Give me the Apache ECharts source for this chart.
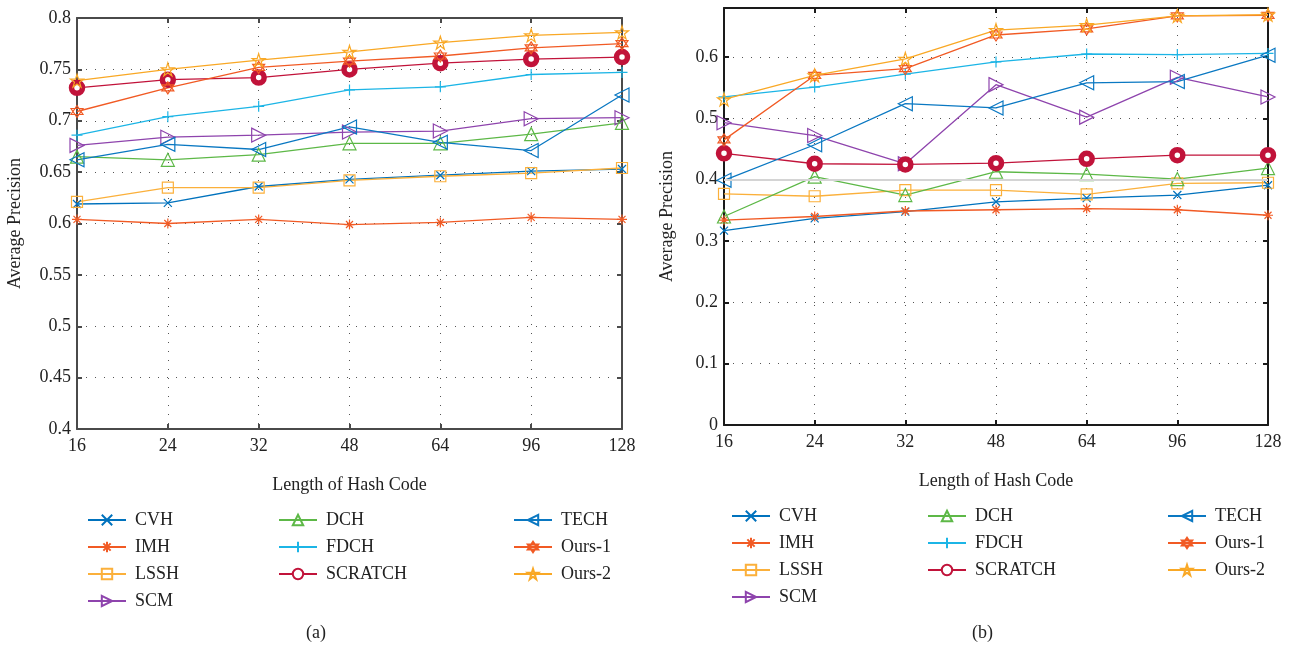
<!DOCTYPE html>
<html>
<head>
<meta charset="utf-8">
<script src="https://cdn.jsdelivr.net/npm/echarts@6/dist/echarts.min.js"></script>
<style>
  html, body { margin: 0; padding: 0; background: #fff; }
  #main { width: 1294px; height: 652px; }
</style>
</head>
<body>
<div id="main"></div>
<script>
// hash code lengths (x categories)
const hashLengths = ['16', '24', '32', '48', '64', '96', '128']

// (a) average precision
const cvhA     = [0.619, 0.620, 0.636, 0.643, 0.647, 0.651, 0.653]
const imhA     = [0.604, 0.600, 0.604, 0.599, 0.601, 0.606, 0.604]
const lsshA    = [0.621, 0.635, 0.635, 0.642, 0.646, 0.649, 0.654]
const scmA     = [0.676, 0.684, 0.686, 0.689, 0.690, 0.702, 0.703]
const dchA     = [0.665, 0.662, 0.667, 0.678, 0.678, 0.687, 0.698]
const fdchA    = [0.686, 0.704, 0.714, 0.730, 0.733, 0.745, 0.747]
const scratchA = [0.732, 0.740, 0.742, 0.750, 0.756, 0.760, 0.762]
const techA    = [0.662, 0.677, 0.672, 0.694, 0.679, 0.671, 0.725]
const ours1A   = [0.709, 0.732, 0.752, 0.758, 0.763, 0.771, 0.775]
const ours2A   = [0.739, 0.750, 0.759, 0.767, 0.776, 0.783, 0.786]

// (b) average precision
const cvhB     = [0.317, 0.337, 0.348, 0.364, 0.370, 0.375, 0.391]
const imhB     = [0.334, 0.340, 0.349, 0.351, 0.353, 0.351, 0.342]
const lsshB    = [0.377, 0.373, 0.383, 0.383, 0.376, 0.394, 0.395]
const scmB     = [0.493, 0.472, 0.426, 0.555, 0.502, 0.567, 0.535]
const dchB     = [0.340, 0.405, 0.375, 0.413, 0.409, 0.401, 0.419]
const fdchB    = [0.535, 0.551, 0.572, 0.592, 0.605, 0.604, 0.606]
const scratchB = [0.443, 0.426, 0.425, 0.427, 0.434, 0.440, 0.440]
const techB    = [0.399, 0.457, 0.524, 0.517, 0.558, 0.560, 0.603]
const ours1B   = [0.465, 0.570, 0.581, 0.636, 0.646, 0.667, 0.668]
const ours2B   = [0.531, 0.570, 0.597, 0.644, 0.652, 0.667, 0.669]

const FONT = 'Liberation Serif'
const STAR = 'path://M5,0L6.12,3.45L9.76,3.45L6.82,5.59L7.94,9.05L5,6.91L2.06,9.05L3.18,5.59L0.24,3.45L3.88,3.45Z'
const HEX = 'path://M5,0L9.33,7.5L0.67,7.5ZM5,10L0.67,2.5L9.33,2.5Z'

const styles = {
  'CVH':     { c: '#0072BD', sym: 'path://M0,0L10,10M10,0L0,10', size: 8 },
  'IMH':     { c: '#F15A24', sym: 'path://M5,0L5,10M0,5L10,5M1.5,1.5L8.5,8.5M8.5,1.5L1.5,8.5', size: 10 },
  'LSSH':    { c: '#FBB03B', sym: 'rect', size: 11 },
  'SCM':     { c: '#8E44AD', sym: 'path://M0,0L10,5L0,10Z', size: 14 },
  'DCH':     { c: '#5DB847', sym: 'triangle', size: 13 },
  'FDCH':    { c: '#1CB5E6', sym: 'path://M5,0L5,10M0,5L10,5', size: 11 },
  'SCRATCH': { c: '#C1133A', sym: 'circle', size: 11, bw: 5.5, fill: '#fff' },
  'TECH':    { c: '#0A78C2', sym: 'path://M10,0L0,5L10,10Z', size: 14 },
  'Ours-1':  { c: '#F15A24', sym: HEX, size: 12 },
  'Ours-2':  { c: '#F9A825', sym: STAR, size: 13 },
}

function makeSeries(name, data, gi) {
  const s = styles[name]
  return {
    name, type: 'line', data,
    xAxisIndex: gi * 2, yAxisIndex: gi * 2,
    symbol: s.sym, symbolSize: s.size,
    lineStyle: { color: s.c, width: 1.3 },
    itemStyle: { color: s.fill || 'rgba(0,0,0,0)', borderColor: s.c, borderWidth: s.bw || 1.2 },
    emphasis: { disabled: true },
    animation: false,
  }
}

const namesA = ['CVH', 'IMH', 'LSSH', 'SCM', 'DCH', 'FDCH', 'SCRATCH', 'TECH', 'Ours-1', 'Ours-2']
const dataA = [cvhA, imhA, lsshA, scmA, dchA, fdchA, scratchA, techA, ours1A, ours2A]
const dataB = [cvhB, imhB, lsshB, scmB, dchB, fdchB, scratchB, techB, ours1B, ours2B]

const seriesA = namesA.map((n, i) => makeSeries(n, dataA[i], 0))
const seriesB = namesA.map((n, i) => makeSeries(n, dataB[i], 1))
// faint reference line at 0.4 in (b)
seriesB[0].markLine = {
  silent: true, symbol: 'none', label: { show: false },
  lineStyle: { color: '#d4d4d4', type: 'solid', width: 2 },
  data: [{ yAxis: 0.4 }],
}

function axesFor(gi, yMin, yMax, axisColor, axisWidth) {
  const labelStyle = { fontFamily: FONT, fontSize: 18, color: '#222' }
  const nameStyle = { fontFamily: FONT, fontSize: 18, color: '#222' }
  const dotted = { show: true, lineStyle: { color: '#555', type: [1, 8], width: 1 } }
  const line = { show: true, onZero: false, lineStyle: { color: axisColor, width: axisWidth } }
  const tick = { show: true, inside: true, length: 5, lineStyle: { color: axisColor, width: axisWidth } }
  const x = [
    { type: 'category', gridIndex: gi, data: hashLengths, boundaryGap: false, position: 'bottom',
      name: 'Length of Hash Code', nameLocation: 'middle', nameGap: 47, nameTextStyle: nameStyle,
      axisLine: line, axisTick: { ...tick, alignWithLabel: true }, axisLabel: { ...labelStyle, margin: 8 },
      splitLine: dotted },
    { type: 'category', gridIndex: gi, data: hashLengths, boundaryGap: false, position: 'top',
      axisLine: line, axisTick: tick, axisLabel: { show: false }, splitLine: { show: false } },
  ]
  const y = [
    { type: 'value', gridIndex: gi, min: yMin, max: yMax, interval: gi === 0 ? 0.05 : 0.1, position: 'left',
      name: 'Average Precision', nameLocation: 'middle', nameGap: gi === 0 ? 53 : 48, nameTextStyle: nameStyle,
      axisLine: line, axisTick: tick, axisLabel: { ...labelStyle, margin: 6, showMaxLabel: gi === 0 },
      splitLine: dotted },
    { type: 'value', gridIndex: gi, min: yMin, max: yMax, interval: gi === 0 ? 0.05 : 0.1, position: 'right',
      axisLine: line, axisTick: tick, axisLabel: { show: false }, splitLine: { show: false } },
  ]
  return { x, y }
}

const axA = axesFor(0, 0.4, 0.8, '#4a4a4a', 2)
const axB = axesFor(1, 0, 0.68, '#1a1a1a', 2)

function legendCol(names, left, top) {
  return {
    data: names, orient: 'vertical', left, top, padding: 0,
    itemWidth: 38, itemHeight: 13, itemGap: 9,
    textStyle: { fontFamily: FONT, fontSize: 18, color: '#222', lineHeight: 18, padding: [0, 0, 0, 4] },
    selectedMode: false,
  }
}

const chart = echarts.init(document.getElementById('main'), null, { renderer: 'canvas' })
chart.setOption({
  animation: false,
  backgroundColor: '#fff',
  grid: [
    { left: 77, top: 18, width: 545, height: 411 },
    { left: 724, top: 8, width: 544, height: 417 },
  ],
  xAxis: [...axA.x, ...axB.x],
  yAxis: [...axA.y, ...axB.y],
  legend: [
    legendCol(['CVH', 'IMH', 'LSSH', 'SCM'], 87, 511),
    legendCol(['DCH', 'FDCH', 'SCRATCH'], 278, 511),
    legendCol(['TECH', 'Ours-1', 'Ours-2'], 513, 511),
    legendCol(['CVH', 'IMH', 'LSSH', 'SCM'], 731, 507),
    legendCol(['DCH', 'FDCH', 'SCRATCH'], 927, 507),
    legendCol(['TECH', 'Ours-1', 'Ours-2'], 1167, 507),
  ],
  graphic: [
    { type: 'text', left: 306, top: 624, style: { text: '(a)', font: '18px "Liberation Serif"', fill: '#222' } },
    { type: 'text', left: 972, top: 624, style: { text: '(b)', font: '18px "Liberation Serif"', fill: '#222' } },
  ],
  series: [...seriesA, ...seriesB],
})
</script>
</body>
</html>
